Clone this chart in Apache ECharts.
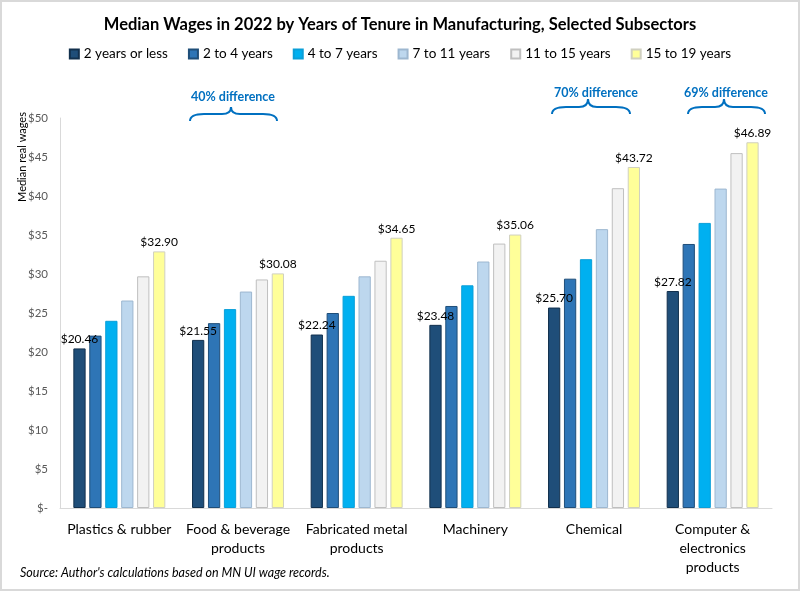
<!DOCTYPE html>
<html>
<head>
<meta charset="utf-8">
<script src="https://cdn.jsdelivr.net/npm/echarts@6/dist/echarts.min.js"></script>
<style>html,body{margin:0;padding:0;background:#fff}#c{width:800px;height:591px}</style>
</head>
<body>
<div id="c"></div>
<script>
var categories = ['Plastics & rubber', 'Food & beverage\nproducts', 'Fabricated metal\nproducts', 'Machinery', 'Chemical', 'Computer &\nelectronics\nproducts'];
var seriesNames = ['2 years or less', '2 to 4 years', '4 to 7 years', '7 to 11 years', '11 to 15 years', '15 to 19 years'];
var yrs2OrLess = [20.46, 21.55, 22.24, 23.48, 25.70, 27.82];
var yrs2to4 = [22.1, 23.7, 25.0, 25.9, 29.4, 33.85];
var yrs4to7 = [24.0, 25.5, 27.2, 28.55, 31.9, 36.55];
var yrs7to11 = [26.6, 27.75, 29.7, 31.6, 35.75, 40.95];
var yrs11to15 = [29.7, 29.3, 31.7, 33.9, 41.0, 45.5];
var yrs15to19 = [32.90, 30.08, 34.65, 35.06, 43.72, 46.89];
var yTicks = [0, 5, 10, 15, 20, 25, 30, 35, 40, 45, 50];

var FONT = 'Lato, sans-serif';
var fills = ['#1F4E79', '#2E75B6', '#00B0F0', '#BDD7EE', '#F2F2F2', '#FFFF99'];
var borders = ['#12304d', '#1F4E79', '#0a9fd8', '#9db7d0', '#bfbfbf', '#d0d0c0'];
var allData = [yrs2OrLess, yrs2to4, yrs4to7, yrs7to11, yrs11to15, yrs15to19];

var series = seriesNames.map(function (n, i) {
  var labeled = (i === 0 || i === 5);
  return {
    name: n,
    type: 'bar',
    data: allData[i],
    barGap: '30%',
    barCategoryGap: '22.5%',
    itemStyle: { color: fills[i], borderColor: borders[i], borderWidth: 1 },
    label: {
      show: labeled,
      position: 'top',
      distance: 3,
      fontFamily: FONT,
      fontSize: 12,
      color: '#000',
      formatter: function (p) { return '$' + p.value.toFixed(2); }
    },
    emphasis: { disabled: true }
  };
});

var BLUE = '#0070C0';
function seg(type, shape) {
  return { type: type, shape: shape, style: { stroke: BLUE, lineWidth: 2, fill: null }, silent: true };
}
function annBrace(x0, x1, xc, yTop, yMid, yBot) {
  return [
    seg('bezierCurve', { x1: x0, y1: yBot, cpx1: x0, cpy1: yMid, x2: x0 + 14, y2: yMid }),
    seg('line', { x1: x0 + 14, y1: yMid, x2: xc - 9, y2: yMid }),
    seg('bezierCurve', { x1: xc - 9, y1: yMid, cpx1: xc, cpy1: yMid, x2: xc, y2: yTop }),
    seg('bezierCurve', { x1: xc, y1: yTop, cpx1: xc, cpy1: yMid, x2: xc + 9, y2: yMid }),
    seg('line', { x1: xc + 9, y1: yMid, x2: x1 - 14, y2: yMid }),
    seg('bezierCurve', { x1: x1 - 14, y1: yMid, cpx1: x1, cpy1: yMid, x2: x1, y2: yBot })
  ];
}
function annText(t, x, y) {
  return { type: 'text', x: x, y: y, silent: true,
    style: { text: t, fill: BLUE, fontFamily: FONT, fontSize: 12.5, fontWeight: 'bold', align: 'center', verticalAlign: 'middle' } };
}

var graphics = [
  { type: 'rect', shape: { x: 0, y: 0, width: 800, height: 591 }, style: { fill: null, stroke: '#d9d9d9', lineWidth: 4 }, silent: true },
  { type: 'text', x: 22, y: 157, rotation: Math.PI / 2, silent: true,
    style: { text: 'Median real wages', fill: '#000', fontFamily: FONT, fontSize: 11, align: 'center', verticalAlign: 'middle' } },
  { type: 'text', x: 20, y: 573, silent: true,
    style: { text: "Source: Author's calculations based on MN UI wage records.", fill: '#000', fontFamily: FONT, fontSize: 12.5, fontStyle: 'italic', verticalAlign: 'middle' } },
  annText('40% difference', 233, 97),
  annText('70% difference', 596, 93),
  annText('69% difference', 726, 93)
].concat(annBrace(190, 277, 231, 107, 114, 121))
 .concat(annBrace(552, 630, 588, 99, 107, 114))
 .concat(annBrace(688, 765, 724, 99, 107, 114));

var chart = echarts.init(document.getElementById('c'), null, { renderer: 'canvas' });
chart.setOption({
  animation: false,
  backgroundColor: '#fff',
  textStyle: { fontFamily: FONT },
  title: {
    text: 'Median Wages in 2022 by Years of Tenure in Manufacturing, Selected Subsectors',
    left: 'center', top: 11,
    textStyle: { fontFamily: FONT, fontSize: 16.5, fontWeight: 'bold', color: '#000' }
  },
  legend: {
    top: 42, left: 'center',
    itemWidth: 9, itemHeight: 9, itemGap: 20,
    icon: 'rect',
    textStyle: { fontFamily: FONT, fontSize: 13.5, color: '#000' },
    data: seriesNames
  },
  grid: { left: 60, right: 28, top: 118, bottom: 83, containLabel: false },
  xAxis: {
    type: 'category',
    data: categories,
    axisLine: { lineStyle: { color: '#d9d9d9', width: 1 } },
    axisTick: { show: false },
    axisLabel: { fontFamily: FONT, fontSize: 14, color: '#000', margin: 12, lineHeight: 19, interval: 0 }
  },
  yAxis: {
    type: 'value', min: yTicks[0], max: yTicks[yTicks.length - 1], interval: 5,
    axisLine: { show: true, lineStyle: { color: '#d9d9d9', width: 1 } },
    axisTick: { show: false },
    splitLine: { show: false },
    axisLabel: {
      fontFamily: FONT, fontSize: 11.5, color: '#595959', margin: 12,
      formatter: function (v) { return v === 0 ? '$-' : '$' + v; }
    }
  },
  series: series,
  graphic: graphics
});
</script>
</body>
</html>
